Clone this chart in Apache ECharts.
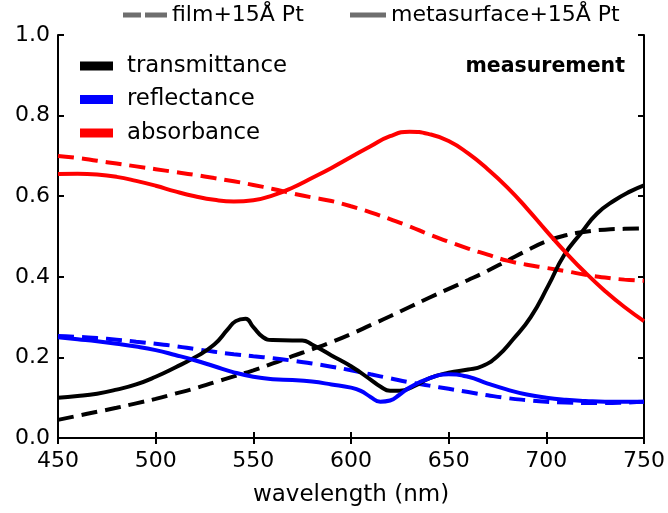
<!DOCTYPE html>
<html>
<head>
<meta charset="utf-8">
<script src="https://cdn.jsdelivr.net/npm/echarts@6/dist/echarts.min.js"></script>
<style>
  html, body { margin: 0; padding: 0; background: #fff; }
  #chart { width: 668px; height: 513px; }
</style>
</head>
<body>
<div id="chart"></div>
<script>
// Wavelength grid (nm) shared by the smooth film spectra and the absorbance curve
const wavelengths = [450,460,470,480,490,500,510,520,530,540,550,560,570,580,590,600,610,620,630,640,650,660,670,680,690,700,710,720,730,740,750];

// film + 15 Å Pt
const transFilm = [0.045,0.055,0.065,0.075,0.086,0.097,0.110,0.123,0.138,0.153,0.168,0.185,0.203,0.220,0.238,0.258,0.280,0.302,0.325,0.348,0.370,0.392,0.415,0.440,0.465,0.488,0.503,0.512,0.517,0.519,0.520];
const reflFilm  = [0.253,0.251,0.248,0.244,0.239,0.234,0.228,0.221,0.214,0.208,0.203,0.198,0.192,0.185,0.177,0.168,0.158,0.148,0.138,0.130,0.122,0.114,0.106,0.099,0.094,0.090,0.088,0.087,0.087,0.088,0.090];
const absFilm   = [0.700,0.695,0.688,0.681,0.674,0.667,0.660,0.653,0.645,0.637,0.628,0.618,0.607,0.597,0.588,0.575,0.560,0.543,0.525,0.505,0.487,0.470,0.455,0.440,0.430,0.422,0.414,0.405,0.398,0.393,0.390];

// metasurface + 15 Å Pt
const absMeta   = [0.655,0.656,0.654,0.648,0.638,0.626,0.612,0.600,0.591,0.587,0.590,0.602,0.621,0.645,0.670,0.697,0.724,0.749,0.760,0.754,0.737,0.706,0.667,0.622,0.570,0.514,0.460,0.410,0.365,0.325,0.290];

const wlTrans   = [450,460,470,480,490,500,510,520,530,537,541,546,550,555,560,570,575,580,590,600,610,615,620,625,632,640,650,660,667,675,683,692,701,709,718,726,735,743,750];
const transMeta = [0.100,0.104,0.110,0.120,0.133,0.152,0.175,0.200,0.232,0.270,0.290,0.296,0.275,0.250,0.243,0.242,0.242,0.232,0.205,0.178,0.145,0.128,0.117,0.117,0.128,0.148,0.162,0.170,0.178,0.203,0.245,0.300,0.378,0.453,0.510,0.557,0.590,0.612,0.627];

const wlRefl    = [450,460,470,480,490,500,510,520,530,540,550,560,570,580,590,600,605,610,615,620,625,630,640,650,660,670,680,690,700,710,720,730,740,750];
const reflMeta  = [0.250,0.245,0.240,0.234,0.227,0.218,0.206,0.193,0.178,0.163,0.152,0.146,0.144,0.140,0.133,0.125,0.117,0.102,0.090,0.093,0.108,0.125,0.148,0.158,0.152,0.135,0.120,0.108,0.100,0.095,0.092,0.090,0.090,0.090];

const xTicks = { min: 450, max: 750, interval: 50 };
const yTicks = { min: 0, max: 1, interval: 0.2 };

const FONT = 'DejaVu Sans';
const pairs = (xs, ys) => xs.map((x, i) => [x, ys[i]]);

function curve(name, xs, ys, color, dashed) {
  return {
    name: name,
    type: 'line',
    data: pairs(xs, ys),
    showSymbol: false,
    symbol: 'none',
    smooth: 0.5,
    silent: true,
    color: color,
    lineStyle: { color: color, width: 4, type: dashed ? [16, 8] : 'solid' },
    z: dashed ? 2 : 3
  };
}

const chart = echarts.init(document.getElementById('chart'), null, { renderer: 'canvas' });

const axisBase = {
  type: 'value',
  axisLine: { show: true, lineStyle: { color: '#000', width: 2 } },
  axisTick: { show: true, inside: true, length: 6, lineStyle: { color: '#000', width: 2 } },
  splitLine: { show: false }
};

chart.setOption({
  animation: false,
  backgroundColor: '#fff',
  textStyle: { fontFamily: FONT },
  grid: { left: 58, right: 24, top: 35, bottom: 75, containLabel: false },
  title: {
    text: 'measurement',
    right: 43, top: 55, padding: 0,
    textStyle: { fontFamily: FONT, fontSize: 20.5, fontWeight: 'bold', color: '#000', lineHeight: 24 }
  },
  legend: [
    {
      data: ['transmittance', 'reflectance', 'absorbance'],
      orient: 'vertical',
      left: 80, top: 54,
      itemWidth: 33, itemHeight: 9, itemGap: 9.5,
      icon: 'rect',
      selectedMode: false,
      padding: 0,
      textStyle: { fontFamily: FONT, fontSize: 22.8, color: '#000', lineHeight: 24, padding: [0, 0, 0, 9] }
    },
    {
      data: [{ name: 'film+15Å Pt', icon: 'path://M0,0h18v5h-18zM22,0h22v5h-22z' }],
      left: 123, top: 3,
      itemWidth: 44, itemHeight: 5,
      selectedMode: false,
      padding: 0,
      textStyle: { fontFamily: FONT, fontSize: 22, color: '#000', lineHeight: 24 }
    },
    {
      data: [{ name: 'metasurface+15Å Pt', icon: 'rect' }],
      left: 350, top: 3,
      itemWidth: 36, itemHeight: 5,
      selectedMode: false,
      padding: 0,
      textStyle: { fontFamily: FONT, fontSize: 22, color: '#000', lineHeight: 24 }
    }
  ],
  xAxis: [
    Object.assign({}, axisBase, xTicks, {
      position: 'bottom',
      name: 'wavelength (nm)',
      nameLocation: 'middle',
      nameGap: 46,
      nameTextStyle: { fontFamily: FONT, fontSize: 23, color: '#000' },
      axisLabel: { fontFamily: FONT, fontSize: 22, color: '#000', margin: 12 }
    }),
    Object.assign({}, axisBase, xTicks, {
      position: 'top',
      axisLabel: { show: false }
    })
  ],
  yAxis: [
    Object.assign({}, axisBase, yTicks, {
      position: 'left',
      axisLabel: { fontFamily: FONT, fontSize: 22, color: '#000', margin: 8,
                   formatter: v => v.toFixed(1) }
    }),
    Object.assign({}, axisBase, yTicks, {
      position: 'right',
      axisLabel: { show: false }
    })
  ],
  series: [
    curve('film+15Å Pt', [], [], '#6e6e6e', true),
    curve('metasurface+15Å Pt', [], [], '#6e6e6e', false),
    curve('transmittance-film', wavelengths, transFilm, '#000000', true),
    curve('reflectance-film', wavelengths, reflFilm, '#0000ff', true),
    curve('absorbance-film', wavelengths, absFilm, '#ff0000', true),
    curve('transmittance', wlTrans, transMeta, '#000000', false),
    curve('reflectance', wlRefl, reflMeta, '#0000ff', false),
    curve('absorbance', wavelengths, absMeta, '#ff0000', false)
  ]
});
</script>
</body>
</html>
